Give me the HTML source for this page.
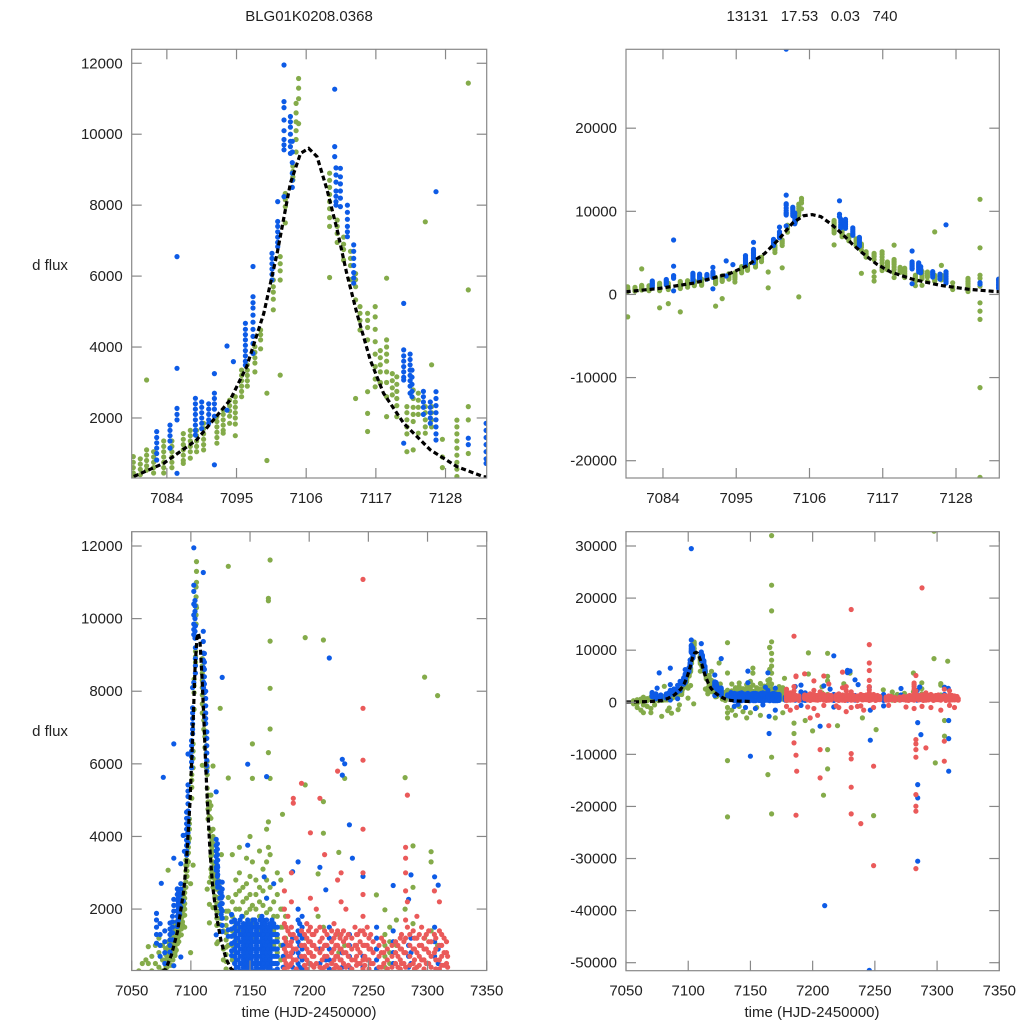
<!DOCTYPE html>
<html><head><meta charset="utf-8">
<style>
html,body{margin:0;padding:0;background:#fff;width:1024px;height:1024px;overflow:hidden;}
svg{display:block;font-family:"Liberation Sans",sans-serif;}
</style></head>
<body>
<svg id="chart" width="1024" height="1024" viewBox="0 0 1024 1024" xmlns="http://www.w3.org/2000/svg">
<rect width="1024" height="1024" fill="#fff"/>
<text x="309" y="21" font-size="15" text-anchor="middle" fill="#222">BLG01K0208.0368</text>
<text x="812" y="21" font-size="15" text-anchor="middle" fill="#222" style="white-space:pre" xml:space="preserve">13131   17.53   0.03   740</text>
<text x="50" y="270" font-size="15" text-anchor="middle" fill="#222">d flux</text>
<text x="50" y="736" font-size="15" text-anchor="middle" fill="#222">d flux</text>
<text x="309" y="1017" font-size="15" text-anchor="middle" fill="#222">time (HJD-2450000)</text>
<text x="812" y="1017" font-size="15" text-anchor="middle" fill="#222">time (HJD-2450000)</text>
</svg>
<script>
// ---- data: nightly groups [time, [flux values]] ----
const greenNights = [
[7056,[300,0,-300]],[7059,[500,-200,-1000]],[7062,[600,200,-1500]],[7064,[965,500,-500,-2000]],
[7067,[700,300,-800]],[7070,[1000,500,-1200,-2000]],[7073,[1200,800,400,-500]],[7076,[1000,600,300]],
[7078.7,[910,750,600,450,350,-2700]],[7079.8,[850,700,550,400]],[7080.8,[3070,1100,950,800,650,530]],
[7081.9,[1050,900,750,600,450]],[7083.5,[1350,1200,1050,900,750,600,450,-1600]],
[7084.8,[1350,1200,1050,900,750,600,-1100]],[7086.6,[1560,1400,1250,1100,950,800,720,-2100]],
[7087.7,[1650,1500,1350,1200,1050,870]],[7088.7,[1650,1500,1350,1200,1050]],
[7089.8,[1850,1700,1550,1400,1250,1100]],[7091.9,[2040,1900,1750,1600,1450,1290,-1400]],
[7092.9,[2230,2100,1950,1800,1650,1570,-500]],[7093.9,[2500,2350,2200,2050,1850]],
[7094.8,[2600,2450,2300,2150,2000,1830,1500]],[7095.8,[3350,3200,3050,2900,2750,2600]],
[7096.7,[3500,3350,3200,3050,2900]],[7097.9,[4010,3850,3700,3550,3300]],[7098.8,[4480,4350,4200,3950]],
[7099.8,[2700,800]],[7100.8,[5890,5700,5550,5350,5050]],[7101.9,[6550,6350,6150,5890,3210]],
[7102.7,[8330,8150,7960,7500]],[7103.9,[9100,8950,8800,8710]],
[7104.4,[10870,10600,10350,10100,9850,9500,-300]],[7104.8,[11570,11300,11000,10300]],
[7109.7,[8900,8700,8500,8300,8100,7900,7650,7400,5960]],[7110.9,[7580,7400,7200,6950]],
[7111.9,[7100,6900,6750,6450]],[7113,[6700,6500,6300,5900]],[7113.8,[6070,5900,5700,5330,2550]],
[7114.5,[5140,4950,4750,4480]],[7115.7,[4950,4750,4550,4200,2740,2130,1620]],
[7116.9,[5140,4850,4500,4150,3800,3450,3100,2880]],[7117.7,[3900,3700,3500,3300,3000,2980]],
[7118.7,[5940,4200,4000,3800,3600,3300,3000,2600,2040]],[7119.6,[3250,3050,2850,2650]],
[7120.3,[3160,2950,2750,2550,2350,2040]],[7121.9,[2320,2150,1950,1750,1550,1050]],
[7122.9,[2790,2550,2300,2100,1900,1100]],[7123.7,[2700,2500,2300,2100,1570]],
[7124.8,[7530,2320,2150,1950,1750,1570]],[7125.8,[3500,2320,2150,1950,1750]],[7127.5,[1400,900,600]],
[7129.8,[1940,1750,1550,1350,1150,950,750,560,350]],
[7131.6,[11440,5610,2320,1945,1000,-1000,-2000,-3000,-11200,-22000]],
[7135,[3500,2200,1800,1400,1000,600,-1500]],[7138,[2800,2400,2000,1600,1200,800,-2500]],
[7141,[3700,3000,2500,2000,1500,1100,-800]],[7144,[2600,2200,1800,1400,-1800]],
[7147,[3400,2700,2300,1900,1500,1100,-3000]],[7150,[4000,2900,2400,2000,1600,-2000]],
[7152,[6550,5600,3300,2100,1700]],[7155,[2800,2400,2000,1600,1200,-1000]],
[7158,[3600,2600,2200,1800,1400,-2500]],[7161,[3100,2500,2100,1700,1300]],
[7164,[4200,3300,2800,2300,1900,1500,-13880]],[7165.5,[10560,10490,6310,4400,3700]],
[7167,[32000,22470,17540,11615,9380,8080,6960,5600,3500,2600,2000,-10550,-21440]],
[7170,[2200,1800,1400,1000,-3000]],[7173,[3000,2400,1800,1200,800]],
[7176,[2800,2000,1500,1000,600,-2000]],[7177.4,[4610,2000,1500,1000]],[7180,[1800,1200,700,400]],
[7185,[-4000,-6000]],[7194,[-3500]],[7196.6,[9478,5420,1200]],[7200,[-5500]],
[7207.5,[2970,1800]],[7208.7,[-17850]],[7212,[9410,4960,4090,1500,-12790,-9080]],
[7220,[-4500]],[7225,[3560,1300,800]],[7230,[5600,1000]],[7240,[-3000]],[7249,[-21760]],
[7251,[-5240]],[7256.8,[2390,900]],[7264,[1980,1300,1000,700,400]],[7268,[1500,1100,800,500]],
[7273.7,[1700,1000]],[7281,[5620,2000]],[7287.7,[3740,2600,1600]],[7297.5,[32838,8390,1200]],
[7298.6,[-11640]],[7303,[3580,3300,1400]],[7306,[-3500,-6500]],[7308.5,[7880,1000]]
];
const blueNights = [
[7071,[1880,1700,1500,1300,1060]],[7074,[1600,1300,1000,700]],[7075,[2710]],[7076.7,[5630]],
[7078,[1400,1100,800,500]],[7082.4,[1615,1450,1300,1150,1000,816]],[7084.5,[1800,1650,1500,1350,1150]],
[7085.6,[6550,3400,2270,2100,1945,440]],[7088.5,[2555,2400,2250,2100,1950,1800,1650,1520]],
[7089.5,[2450,2300,2150,2000,1850,1700]],[7090.6,[2400,2250,2100,1950,1850]],
[7091.5,[3250,2700,2550,2400,2250,2050,680]],[7093.5,[4030,2220]],[7094.5,[3590]],
[7096.4,[4670,4500,4350,4200,4050,3900,3750,3600,3490]],
[7097.6,[6270,5420,5250,5100,4900,4700,4500,4300,4100,3820]],
[7100.6,[6640,6500,6350,6200,6050,5890]],[7101.5,[8100,7540,7400,7250,7100,6950,6830]],
[7102.5,[29510,11950,10920,10750,10400,10100,9850,9700,9560,8240]],
[7103.5,[10500,10350,10200,10000,9800,9650,9460]],[7103.8,[9800,9500,9200,8900,8700,8500]],
[7110.5,[11270,9650,9370]],[7110.7,[9050,8850,8650,8400,8250,8100,8000]],
[7111.4,[9040,8800,8600,8400,8200,7960]],[7112.5,[8000,7800,7600,7400,7250,7110]],
[7113.5,[6880,6700,6500,6300,6100,5950,5800]],
[7121.4,[5230,3920,3750,3600,3450,3300,3150,3070,1290]],
[7122.4,[3800,3650,3500,3350,3200,3050,2900,2700]],[7122.7,[3350,3150,2950,2750,2600]],
[7124.5,[2750,2600,2450,2300,2100]],[7125.6,[2450,2300,2150,2000,1850]],
[7126.5,[8380,2740,2550,2350,2150,1950,1750,1550,1380]],[7131.6,[1430,1250]],
[7134.4,[1850,1650,1450,1250,1050,850,720]],
[7137,[1700,1500,1300,1100,900,700,500,300,-800]],[7138.5,[1600,1400,1200,1000,800,600,400]],
[7140,[1600,1400,1200,1000,800,600,400,-400]],[7141.5,[1700,1500,1300,1100,900,700,500,300]],
[7143,[1800,1500,1300,1100,900,700,500,300]],[7144.5,[1600,1400,1200,1000,800,600,400]],
[7146,[1500,1300,1100,900,700,500,350,-1000]],[7147,[1600,1300,1100,900,700,500]],
[7148,[5990,3760,1700,1400,1200,1000,800,600,400]],[7149.5,[1500,1300,1100,900,700,500,300]],[7150,[-10360]],
[7151,[1600,1400,1200,1000,800,600,400]],[7152.5,[1700,1500,1300,1100,900,700,500,300]],
[7154,[1700,1500,1300,1100,900,700,500,300,-1200]],[7155.5,[1600,1400,1200,1000,800,600,400]],
[7157,[1500,1300,1100,900,700,500,350]],[7158.5,[1700,1500,1300,1100,900,700,500,300]],
[7160,[1800,1600,1400,1200,1000,800,600,400,-500]],[7161,[1700,1500,1300,1100,900,700,500,300]],
[7162,[2890,1500,1300,1100,900,700,500]],[7163,[1600,1400,1200,1000,800,600,400]],
[7164,[5650,2300,1700,1400,1200,1000,800,600,400]],[7165.5,[1500,1300,1100,900,700,500,300]],
[7165,[-6000,-2700]],[7167,[1600,1400,1200,1000,800,600,400]],[7168.5,[1700,1500,1300,1100,900,700,500,300]],
[7170,[2700,1600,1300,1100,900,700,500,300,-1500]],[7171.5,[1500,1300,1100,900,700,500,300]],
[7173,[1500,1300,1100,900,700,500,350]],
[7178,[1000,700,400]],[7186,[3030,1200,800,400]],[7190.6,[3300,2000,1700,1400,1100,800,500,-600]],
[7192,[1600,1300,1000,700,400]],
[7194,[1800,1500,1200,900,600,350]],[7206,[-4600]],[7209,[3150,900,500]],[7209.7,[-39030]],
[7214,[2530,1000,600]],[7217,[8916,1500,1200,900,600,350,-900]],[7228,[6125,5690,800,400]],
[7230,[6000]],[7234,[4320,1300,1000,700,400]],[7236.5,[3400]],[7245.5,[2900,700,400,-51450]],
[7246.3,[-7290,-1500]],[7257,[1500,1200,900,600,350,-700]],[7271,[2650,1400,1100,800,500]],
[7284,[2270,1000,700,400]],[7284.4,[-15800,-18360,-30520,-3900]],[7286,[2940,1200,800,500]],
[7287,[-6200]],[7306,[2890,1500,1100,700]],[7309,[2660,900,500]],[7309.3,[-13240,-3510,-6970]]
];
const redNights = [
[7179,[2500,2000,1600,1200,900,600,350,-800]],[7180.5,[1500,1100,800,500]],[7182,[1800,1400,1000,700,400,-1500]],
[7184,[1300,1000,700,450]],
[7185,[12680,3000,2200,1500,1100,800,500,-7800]],[7186.6,[5050,4920,1300,900,600,-10170,-21690]],
[7187.2,[-13240,-1000]],[7189,[1200,900,600,350]],[7193.5,[5465,1400,1000,700]],[7196,[1300,1000,700,450,-900]],
[7198,[1600,1200,900,600,350,-3000]],[7199.5,[1400,1100,800,500]],
[7201,[4100,2300,1500,1100,800,500,-1200]],[7202.5,[1300,1000,700,450]],[7204,[1300,1000,700,400,-2500]],
[7206,[-14520,-9080,2000,1400,900,500]],[7209,[5050,1500,1100,800,400,-600]],[7211,[1200,900,600,350]],
[7213,[3500,1400,1000,700,400,-4500]],[7215,[1300,1000,700,450]],[7219,[1400,1100,800,500,-700]],
[7221,[1600,1200,900,600,350,-1000]],[7222.5,[1300,1000,700,450]],
[7224,[5800,2800,1400,1000,700,400]],[7226,[1200,900,600,350]],[7227,[3000,2200,1300,900,600,-1800]],
[7229,[1400,1100,800,500]],
[7231,[17800,-16310,-21440,-9850,-10870,2000,1200,800,400,-1000]],[7233,[1300,1000,700,450]],
[7236,[1200,900,600,350,-800]],
[7238.7,[-23290,1500,1000,600,-700]],[7240,[1300,1000,700,450]],[7241,[1300,900,500,-1500]],[7243,[1400,1100,800,500]],
[7245.5,[11080,7530,6100,4200,3000,2400,1800,1400,1000,600,350]],[7247,[1300,1000,700,450]],
[7249,[-12280,-31350,1500,1000,600,-1000]],[7250.5,[1200,900,600,350]],[7252,[1300,900,500]],[7254,[1100,800,500]],
[7259,[1000,700,400]],[7261,[1200,800,400,-600]],[7263,[1100,800,500]],[7266,[900,600,350]],[7270,[1000,700,400]],
[7273,[1100,800,500]],
[7275,[1000,700,400,-900]],[7277,[1200,900,600,350]],[7278,[1300,900,500]],[7280,[1100,800,500]],
[7281.5,[3700,3400,3000,2500,1700,1200,800,400,-1200]],
[7283,[5140,-7160,-8000,-9080,-10550,-17720,-19960,-20920,-31930,2200,1500]],[7285,[1300,1000,700,450]],
[7287.9,[21950,1400,900,500,-800]],[7289,[1200,900,600,350]],[7291,[1800,1200,800,400,-8760]],[7293,[1300,1000,700,450]],
[7295,[1500,1000,600,-1000]],[7297,[1200,900,600,350]],
[7299,[1300,900,500]],[7301,[1400,1100,800,500]],[7303,[1100,700,400,-1500]],[7305.8,[-7480,-11320,2500,1300,800]],
[7307,[1200,900,600,350]],
[7310,[2200,1400,1000,600,350,-600]],[7312,[1300,1000,700,450]],[7314,[1200,800,450,-1000]],[7316,[1100,800,500]],[7317,[700,400]]
];
const modelT = [7050,7060,7070,7078.7,7083.5,7088.7,7094,7096.6,7099.3,7101.4,7103.5,7105.1,7106.4,7107.7,7109.3,7110.9,7112.4,7114,7116.1,7118.2,7121.4,7125.6,7129.8,7134,7140,7150];
const modelF = [50,80,150,346,723,1380,2510,3450,4950,6640,8620,9460,9600,9370,8430,7300,6080,4950,3640,2700,1850,1100,630,346,250,150];
const xTicksTop = [7084,7095,7106,7117,7128];
const xTicksBottom = [7050,7100,7150,7200,7250,7300,7350];
const yTicksLeft = [2000,4000,6000,8000,10000,12000];
const yTicksTopRight = [-20000,-10000,0,10000,20000];
const yTicksBottomRight = [-50000,-40000,-30000,-20000,-10000,0,10000,20000,30000];

const NS = 'http://www.w3.org/2000/svg';
const svg = document.getElementById('chart');
function mk(tag, attrs, parent){const e=document.createElementNS(NS,tag);for(const k in attrs)e.setAttribute(k,attrs[k]);(parent||svg).appendChild(e);return e;}

const panels = [
 {id:'top-left', x0:131.7,x1:486.7,y0:49.3,y1:478,xd:[7078.45,7134.5],yd:[308,12394],xt:xTicksTop,yt:yTicksLeft},
 {id:'top-right', x0:626,x1:999.3,y0:49.3,y1:478,xd:[7078.45,7134.5],yd:[-22080,29490],xt:xTicksTop,yt:yTicksTopRight},
 {id:'bottom-left', x0:131.7,x1:486.7,y0:531.7,y1:970.5,xd:[7050,7350],yd:[308,12394],xt:xTicksBottom,yt:yTicksLeft},
 {id:'bottom-right', x0:626,x1:999.3,y0:531.7,y1:970.7,xd:[7050,7350],yd:[-51536,32746],xt:xTicksBottom,yt:yTicksBottomRight}
];
const series = [{name:'green',nights:greenNights,color:'#84ab4a'},{name:'blue',nights:blueNights,color:'#0d5be6'},{name:'red',nights:redNights,color:'#ea5a5a'}];

panels.forEach(p=>{
  const sx = v => p.x0 + (v-p.xd[0])/(p.xd[1]-p.xd[0])*(p.x1-p.x0);
  const sy = v => p.y1 - (v-p.yd[0])/(p.yd[1]-p.yd[0])*(p.y1-p.y0);
  const inX = t => t >= p.xd[0]-0.5 && t <= p.xd[1]+0.5;
  const inY = f => f >= p.yd[0]-(p.yd[1]-p.yd[0])*0.01 && f <= p.yd[1]+(p.yd[1]-p.yd[0])*0.01;
  const g = mk('g',{});
  
  
  const cp = mk('clipPath',{id:'clip-'+p.id}, g);
  mk('rect',{x:p.x0,y:p.y0,width:p.x1-p.x0,height:p.y1-p.y0},cp);
  const plot = mk('g',{'clip-path':'url(#clip-'+p.id+')'}, g);
  series.forEach(s=>{
    const sg = mk('g',{fill:s.color}, plot);
    
    
    s.nights.forEach(n=>{
      if(!inX(n[0])) return;
      n[1].forEach(f=>{
        if(!inY(f)) return;
        const c = mk('circle',{cx:sx(n[0]).toFixed(1),cy:sy(f).toFixed(1),r:2.6}, sg);
        
        
      });
    });
  });
  const pts = [];
  modelT.forEach((t,i)=>{ if(inX(t)||(i>0&&inX(modelT[i-1]))||(i<modelT.length-1&&inX(modelT[i+1]))) pts.push([sx(t),Math.min(sy(modelF[i]),p.y1+6)]); });
  const d = pts.map((q,i)=>(i?'L':'M')+q[0].toFixed(1)+' '+q[1].toFixed(1)).join(' ');
  const line = mk('path',{d:d,fill:'none',stroke:'#000','stroke-width':3.2,'stroke-dasharray':'5,3'}, plot);
  
  
  const frame = mk('rect',{x:p.x0,y:p.y0,width:p.x1-p.x0,height:p.y1-p.y0,fill:'none',stroke:'#888','stroke-width':1.2}, g);
  
  
  p.xt.forEach(t=>{
    const x = sx(t);
    mk('line',{x1:x,x2:x,y1:p.y1,y2:p.y1-10,stroke:'#888','stroke-width':1.2},g);
    mk('line',{x1:x,x2:x,y1:p.y0,y2:p.y0+10,stroke:'#888','stroke-width':1.2},g);
    const tx = mk('text',{x:x,y:p.y1+25,'font-size':15,'text-anchor':'middle',fill:'#222'},g);
    tx.textContent = t;
    
    
  });
  p.yt.forEach(v=>{
    const y = sy(v);
    mk('line',{x1:p.x0,x2:p.x0+10,y1:y,y2:y,stroke:'#888','stroke-width':1.2},g);
    mk('line',{x1:p.x1,x2:p.x1-10,y1:y,y2:y,stroke:'#888','stroke-width':1.2},g);
    const ty = mk('text',{x:p.x0-9,y:y+5,'font-size':15,'text-anchor':'end',fill:'#222'},g);
    ty.textContent = v;
    
    
  });
});
</script>
</body></html>
